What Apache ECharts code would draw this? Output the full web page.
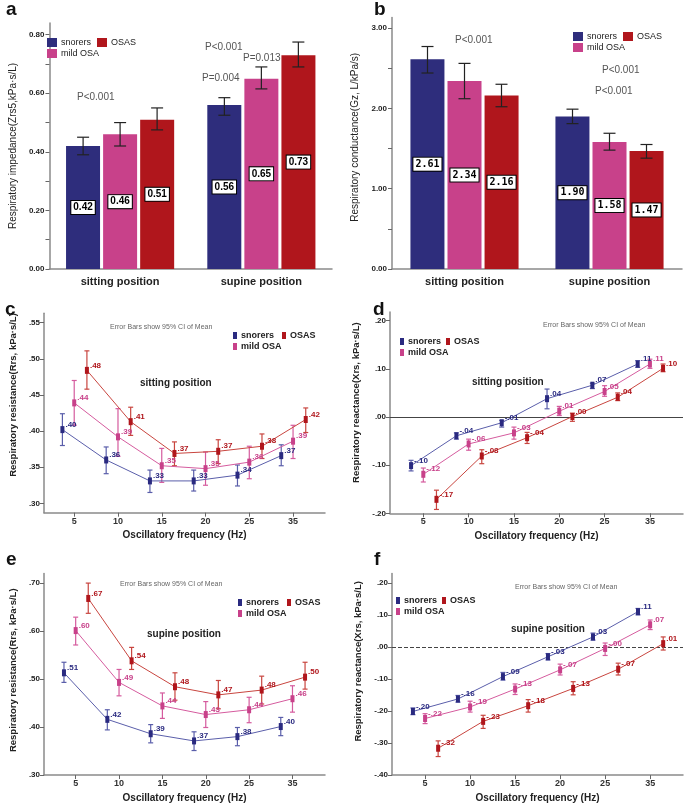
<!DOCTYPE html>
<html lang="en">
<head>
<meta charset="UTF-8">
<title>Respiratory impedance in snorers and OSA</title>
<script src="https://cdn.jsdelivr.net/npm/echarts@6/dist/echarts.min.js"></script>
<style>
  body { margin: 0; background: #fff; }
  .panel { position: absolute; }
</style>
</head>
<body>
<div id="pa" class="panel" style="left:0;top:0;width:340px;height:300px"></div>
<div id="pb" class="panel" style="left:340px;top:0;width:345px;height:300px"></div>
<div id="pc" class="panel" style="left:0;top:300px;width:340px;height:250px"></div>
<div id="pd" class="panel" style="left:340px;top:300px;width:345px;height:250px"></div>
<div id="pe" class="panel" style="left:0;top:550px;width:340px;height:258px"></div>
<div id="pf" class="panel" style="left:340px;top:550px;width:345px;height:258px"></div>

<script>
    // ---- data ----
    var positions = ['sitting position', 'supine position']
    var freqs = ['5', '10', '15', '20', '25', '35']

    // a: impedance Zrs5 (sitting, supine)
    var zSnorers = [0.42, 0.56]
    var zSnorersCI = [[0.39, 0.45], [0.525, 0.585]]
    var zMild = [0.46, 0.65]
    var zMildCI = [[0.42, 0.50], [0.615, 0.69]]
    var zOsas = [0.51, 0.73]
    var zOsasCI = [[0.475, 0.55], [0.69, 0.775]]

    // b: conductance Gz
    var gSnorers = [2.61, 1.90]
    var gSnorersCI = [[2.44, 2.77], [1.81, 1.99]]
    var gMild = [2.34, 1.58]
    var gMildCI = [[2.12, 2.56], [1.48, 1.69]]
    var gOsas = [2.16, 1.47]
    var gOsasCI = [[2.02, 2.30], [1.38, 1.55]]

    // c: Rrs sitting
    var rSitSnorers = [0.402, 0.360, 0.331, 0.331, 0.339, 0.366]
    var rSitSnorersCI = [[0.380, 0.424], [0.341, 0.378], [0.315, 0.346], [0.317, 0.346], [0.324, 0.353], [0.352, 0.381]]
    var rSitMild = [0.439, 0.392, 0.352, 0.348, 0.357, 0.386]
    var rSitMildCI = [[0.408, 0.470], [0.365, 0.431], [0.329, 0.376], [0.325, 0.371], [0.334, 0.379], [0.362, 0.408]]
    var rSitOsas = [0.484, 0.413, 0.369, 0.372, 0.379, 0.416]
    var rSitOsasCI = [[0.458, 0.511], [0.394, 0.433], [0.352, 0.385], [0.355, 0.388], [0.362, 0.396], [0.398, 0.432]]

    // d: Xrs sitting
    var xSitSnorers = [-0.101, -0.039, -0.012, 0.038, 0.066, 0.110]
    var xSitSnorersCI = [[-0.112, -0.090], [-0.046, -0.033], [-0.021, -0.007], [0.017, 0.058], [0.059, 0.070], [0.103, 0.117]]
    var xSitMild = [-0.119, -0.056, -0.033, 0.012, 0.053, 0.110]
    var xSitMildCI = [[-0.135, -0.106], [-0.069, -0.046], [-0.046, -0.021], [0.003, 0.022], [0.043, 0.065], [0.101, 0.120]]
    var xSitOsas = [-0.171, -0.081, -0.043, 0.001, 0.041, 0.101]
    var xSitOsasCI = [[-0.192, -0.152], [-0.097, -0.068], [-0.055, -0.032], [-0.009, 0.008], [0.034, 0.050], [0.094, 0.110]]

    // e: Rrs supine
    var rSupSnorers = [0.513, 0.416, 0.386, 0.371, 0.380, 0.401]
    var rSupSnorersCI = [[0.493, 0.535], [0.394, 0.436], [0.367, 0.405], [0.351, 0.390], [0.361, 0.399], [0.382, 0.420]]
    var rSupMild = [0.601, 0.493, 0.444, 0.426, 0.436, 0.459]
    var rSupMildCI = [[0.571, 0.629], [0.465, 0.520], [0.418, 0.471], [0.399, 0.453], [0.409, 0.462], [0.431, 0.486]]
    var rSupOsas = [0.668, 0.538, 0.484, 0.467, 0.477, 0.504]
    var rSupOsasCI = [[0.637, 0.700], [0.520, 0.566], [0.456, 0.513], [0.438, 0.497], [0.448, 0.506], [0.479, 0.535]]

    // f: Xrs supine
    var xSupSnorers = [-0.201, -0.162, -0.092, -0.030, 0.032, 0.111]
    var xSupSnorersCI = [[-0.211, -0.190], [-0.172, -0.151], [-0.103, -0.079], [-0.040, -0.020], [0.022, 0.044], [0.101, 0.121]]
    var xSupMild = [-0.223, -0.187, -0.131, -0.071, -0.004, 0.070]
    var xSupMildCI = [[-0.239, -0.208], [-0.203, -0.169], [-0.148, -0.115], [-0.087, -0.053], [-0.026, 0.013], [0.055, 0.085]]
    var xSupOsas = [-0.316, -0.232, -0.183, -0.129, -0.069, 0.011]
    var xSupOsasCI = [[-0.342, -0.293], [-0.254, -0.213], [-0.203, -0.164], [-0.149, -0.108], [-0.087, -0.050], [-0.009, 0.032]]

    // ---- styles ----
    var FONT = 'Liberation Sans, Arial, sans-serif'
    var barColors = ['#2e2d7c', '#c8418a', '#b0161c']
    var markColors = ['#2a2a80', '#c8418a', '#b0161c']
    var lineColors = ['#5a5eaa', '#d55b9e', '#c8453f']
    var names = ['snorers', 'mild OSA', 'OSAS']
    var dodge = [-0.27, 0, 0.29]   // horizontal dodge of the three groups in the line panels
    var axisGray = '#8a8a8a'

    function spss(v) {
        // SPSS style: .40  -.10
        return v.toFixed(2).replace(/^(-?)0\./, '$1.')
    }

    function errorBars(name, data, color, cap, shift) {
        return {
            name: name,
            type: 'custom',
            data: data,
            z: 5,
            silent: true,
            encode: { x: 0, y: [1, 2] },
            renderItem: function (params, api) {
                var top = api.coord([api.value(0), api.value(2)])
                var bot = api.coord([api.value(0), api.value(1)])
                var x = top[0] + (shift || 0)
                var st = { stroke: color, lineWidth: 1.2 }
                return {
                    type: 'group',
                    children: [
                        { type: 'line', shape: { x1: x, y1: top[1], x2: x, y2: bot[1] }, style: st },
                        { type: 'line', shape: { x1: x - cap, y1: top[1], x2: x + cap, y2: top[1] }, style: st },
                        { type: 'line', shape: { x1: x - cap, y1: bot[1], x2: x + cap, y2: bot[1] }, style: st }
                    ]
                }
            }
        }
    }

    function txt(x, y, s, size, color, weight) {
        return {
            type: 'text', x: x, y: y,
            style: { text: s, font: (weight || 'normal') + ' ' + size + 'px ' + FONT, fill: color, verticalAlign: 'middle' }
        }
    }

    function letter(x, s) {
        return { type: 'text', x: x, y: 0, style: { text: s, font: 'bold 19px ' + FONT, fill: '#111' } }
    }

    function legends(left, top, gap, bar) {
        var base = {
            orient: 'horizontal',
            icon: 'rect',
            itemWidth: bar ? 10 : 4,
            itemHeight: bar ? 9 : 7,
            itemGap: gap,
            padding: 0,
            textStyle: { fontFamily: FONT, fontSize: 9, fontWeight: bar ? 'normal' : 'bold', color: '#222', padding: [0, 0, 0, -1] },
            selectedMode: false
        }
        return [
            Object.assign({}, base, { left: left, top: top, data: ['snorers', 'OSAS'] }),
            Object.assign({}, base, { left: left, top: top + 11, data: ['mild OSA'] })
        ]
    }

    // ---- bar panels (a, b) ----
    function barPanel(id, cfg) {
        var chart = echarts.init(document.getElementById(id))
        var barW = 34, step = 37
        var series = []
        cfg.means.forEach(function (vals, k) {
            series.push({
                name: names[k],
                type: 'bar',
                data: vals,
                barWidth: barW,
                barGap: '9%',
                itemStyle: { color: barColors[k] },
                label: {
                    show: true,
                    position: 'inside',
                    formatter: function (p) { return p.value.toFixed(2) },
                    color: '#000',
                    fontFamily: cfg.labelFont,
                    fontWeight: 'bold',
                    fontSize: 10,
                    backgroundColor: '#fff',
                    borderColor: '#000',
                    borderWidth: 1,
                    padding: [2, 2, 1, 2]
                }
            })
        })
        cfg.cis.forEach(function (ci, k) {
            series.push(errorBars(names[k] + ' CI', ci.map(function (c, i) { return [i, c[0], c[1]] }), '#222', 6, (k - 1) * step))
        })
        chart.setOption({
            animation: false,
            textStyle: { fontFamily: FONT },
            grid: cfg.grid,
            legend: legends(cfg.legendLeft, cfg.legendTop, 6, true),
            xAxis: {
                type: 'category',
                data: positions,
                axisLine: { lineStyle: { color: axisGray, width: 1.5 } },
                axisTick: { alignWithLabel: true, length: 4, lineStyle: { color: '#555' } },
                axisLabel: { fontSize: 11, fontWeight: 'bold', color: '#222', margin: 7 }
            },
            yAxis: {
                type: 'value',
                min: 0,
                max: cfg.yMax,
                name: cfg.yName,
                nameLocation: 'middle',
                nameGap: cfg.nameGap,
                nameTextStyle: { fontSize: 10, color: '#222', padding: [0, 0, 0, cfg.namePad] },
                splitLine: { show: false },
                axisLine: { show: true, lineStyle: { color: axisGray, width: 1.5 } },
                axisTick: { show: true, length: 4, customValues: cfg.tickVals, lineStyle: { color: '#666' } },
                axisLabel: { customValues: cfg.labelVals, formatter: function (v) { return v.toFixed(2) }, fontSize: 8, fontWeight: 'bold', color: '#222', margin: 5 }
            },
            graphic: cfg.graphic,
            series: series
        })
    }

    barPanel('pa', {
        means: [zSnorers, zMild, zOsas],
        cis: [zSnorersCI, zMildCI, zOsasCI],
        grid: { left: 32, top: 23, width: 300, bottom: 31 },
        yMax: 0.84,
        yName: 'Respiratory impedance(Zrs5,kPa·s/L)',
        nameGap: 21, namePad: 0,
        tickVals: [0, 0.1, 0.2, 0.3, 0.4, 0.5, 0.6, 0.7, 0.8],
        labelVals: [0, 0.2, 0.4, 0.6, 0.8],
        labelFont: FONT,
        legendLeft: 47, legendTop: 38,
        graphic: [
            letter(6, 'a'),
            txt(77, 97, 'P<0.001', 10, '#555'),
            txt(205, 47, 'P<0.001', 10, '#555'),
            txt(243, 58, 'P=0.013', 10, '#555'),
            txt(202, 78, 'P=0.004', 10, '#555')
        ]
    })

    barPanel('pb', {
        means: [gSnorers, gMild, gOsas],
        cis: [gSnorersCI, gMildCI, gOsasCI],
        grid: { left: 52, top: 17.6, width: 290, bottom: 31 },
        yMax: 3.13,
        yName: 'Respiratory conductance(Gz, L/kPa/s)',
        nameGap: 24, namePad: 12,
        tickVals: [0, 0.5, 1, 1.5, 2, 2.5, 3],
        labelVals: [0, 1, 2, 3],
        labelFont: 'DejaVu Sans Mono, monospace',
        legendLeft: 233, legendTop: 32,
        graphic: [
            letter(34, 'b'),
            txt(115, 40, 'P<0.001', 10, '#555'),
            txt(262, 70, 'P<0.001', 10, '#555'),
            txt(255, 91, 'P<0.001', 10, '#555')
        ]
    })

    // ---- line panels (c, d, e, f) ----
    function linePanel(id, cfg) {
        var chart = echarts.init(document.getElementById(id))
        var series = []
        cfg.means.forEach(function (vals, k) {
            var s = {
                name: names[k],
                type: 'line',
                data: vals.map(function (v, i) { return [i + dodge[k], v] }),
                symbol: 'rect',
                symbolSize: [4, 7],
                z: 6,
                itemStyle: { color: markColors[k] },
                lineStyle: { color: lineColors[k], width: 1 },
                label: {
                    show: true,
                    position: 'right',
                    distance: 1,
                    offset: [0, -5],
                    formatter: function (p) { return spss(p.value[1]) },
                    color: markColors[k],
                    fontSize: 8,
                    fontWeight: 'bold'
                }
            }
            if (k === 0 && cfg.zeroLine) {
                s.markLine = {
                    silent: true,
                    symbol: 'none',
                    label: { show: false },
                    lineStyle: { color: '#444', width: 1, type: cfg.zeroLine },
                    data: [{ yAxis: 0 }]
                }
            }
            series.push(s)
        })
        cfg.cis.forEach(function (ci, k) {
            series.push(errorBars(names[k] + ' CI', ci.map(function (c, i) { return [i + dodge[k], c[0], c[1]] }), lineColors[k], 2.5, 0))
        })
        chart.setOption({
            animation: false,
            textStyle: { fontFamily: FONT },
            grid: cfg.grid,
            legend: legends(cfg.legendLeft, cfg.legendTop, cfg.legendGap, false),
            xAxis: {
                type: 'value',
                min: cfg.xMin,
                max: cfg.xMax,
                name: 'Oscillatory frequency (Hz)',
                nameLocation: 'middle',
                nameGap: cfg.xNameGap,
                nameTextStyle: { fontSize: 10, fontWeight: 'bold', color: '#222' },
                splitLine: { show: false },
                axisLine: { onZero: false, lineStyle: { color: axisGray, width: 1.5 } },
                axisTick: { show: true, length: 4, customValues: [0, 1, 2, 3, 4, 5], lineStyle: { color: '#666' } },
                axisLabel: { customValues: [0, 1, 2, 3, 4, 5], formatter: function (v) { return freqs[Math.round(v)] }, fontSize: 9, fontWeight: 'bold', color: '#333', margin: 4 }
            },
            yAxis: {
                type: 'value',
                min: cfg.yMin,
                max: cfg.yMax,
                name: cfg.yName,
                nameLocation: 'middle',
                nameGap: cfg.nameGap,
                nameTextStyle: { fontSize: 9.5, fontWeight: 'bold', color: '#222', padding: [0, 0, 0, cfg.namePad] },
                splitLine: { show: false },
                axisLine: { show: true, onZero: false, lineStyle: { color: axisGray, width: 1.5 } },
                axisTick: { show: true, length: 4, customValues: cfg.yTicks, lineStyle: { color: '#666' } },
                axisLabel: { customValues: cfg.yTicks, formatter: spss, fontSize: 8, fontWeight: 'bold', color: '#222', margin: 4 }
            },
            graphic: cfg.graphic,
            series: series
        })
    }

    linePanel('pc', {
        means: [rSitSnorers, rSitMild, rSitOsas],
        cis: [rSitSnorersCI, rSitMildCI, rSitOsasCI],
        grid: { left: 30, top: 13.3, width: 295, bottom: 37.3 },
        xMin: -0.69, xMax: 5.73, xNameGap: 18,
        yMin: 0.287, yMax: 0.563,
        yTicks: [0.30, 0.35, 0.40, 0.45, 0.50, 0.55],
        yName: 'Respiratory resistance(Rrs, kPa·s/L)',
        nameGap: 19, namePad: 36,
        legendLeft: 233, legendTop: 31, legendGap: 8,
        graphic: [
            letter(5, 'c'),
            txt(110, 27, 'Error Bars show 95% CI of Mean', 7, '#666'),
            txt(140, 83, 'sitting position', 10, '#222', 'bold')
        ]
    })

    linePanel('pd', {
        means: [xSitSnorers, xSitMild, xSitOsas],
        cis: [xSitSnorersCI, xSitMildCI, xSitOsasCI],
        grid: { left: 50, top: 12, width: 293, bottom: 36.7 },
        xMin: -0.735, xMax: 5.73, xNameGap: 18,
        yMin: -0.20, yMax: 0.218,
        yTicks: [-0.20, -0.10, 0, 0.10, 0.20],
        yName: 'Respiratory reactance(Xrs, kPa·s/L)',
        nameGap: 24, namePad: 20,
        zeroLine: 'solid',
        legendLeft: 60, legendTop: 37, legendGap: 5,
        graphic: [
            letter(33, 'd'),
            txt(203, 25, 'Error Bars show 95% CI of Mean', 7, '#666'),
            txt(132, 82, 'sitting position', 10, '#222', 'bold')
        ]
    })

    linePanel('pe', {
        means: [rSupSnorers, rSupMild, rSupOsas],
        cis: [rSupSnorersCI, rSupMildCI, rSupOsasCI],
        grid: { left: 32, top: 23.5, width: 293, bottom: 28.7 },
        xMin: -0.73, xMax: 5.75, xNameGap: 18,
        yMin: 0.30, yMax: 0.72,
        yTicks: [0.30, 0.40, 0.50, 0.60, 0.70],
        yName: 'Respiratory resistance(Rrs, kPa·s/L)',
        nameGap: 20, namePad: 8,
        legendLeft: 238, legendTop: 48, legendGap: 8,
        graphic: [
            letter(6, 'e'),
            txt(120, 34, 'Error Bars show 95% CI of Mean', 7, '#666'),
            txt(147, 84, 'supine position', 10, '#222', 'bold')
        ]
    })

    linePanel('pf', {
        means: [xSupSnorers, xSupMild, xSupOsas],
        cis: [xSupSnorersCI, xSupMildCI, xSupOsasCI],
        grid: { left: 52, top: 23.6, width: 291, bottom: 30.3 },
        xMin: -0.735, xMax: 5.73, xNameGap: 15,
        yMin: -0.40, yMax: 0.23,
        yTicks: [-0.40, -0.30, -0.20, -0.10, 0, 0.10, 0.20],
        yName: 'Respiratory reactance(Xrs, kPa·s/L)',
        nameGap: 25, namePad: 26,
        zeroLine: 'dashed',
        legendLeft: 56, legendTop: 46, legendGap: 5,
        graphic: [
            letter(34, 'f'),
            txt(175, 37, 'Error Bars show 95% CI of Mean', 7, '#666'),
            txt(171, 79, 'supine position', 10, '#222', 'bold')
        ]
    })
</script>
</body>
</html>
